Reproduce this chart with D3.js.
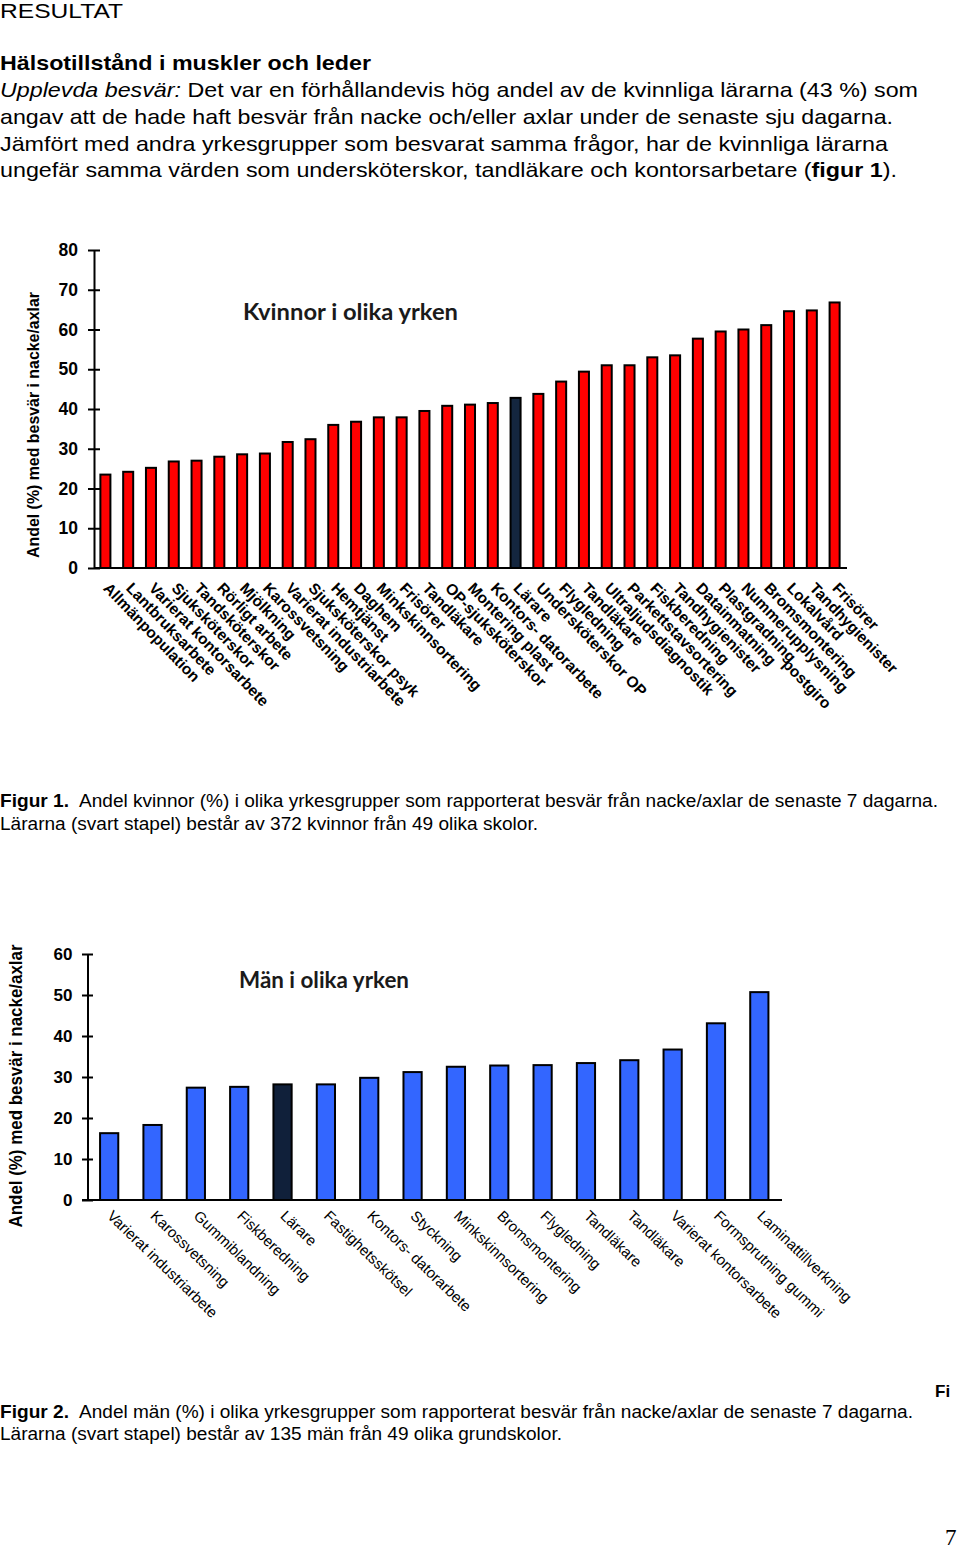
<!DOCTYPE html>
<html>
<head>
<meta charset="utf-8">
<script src="https://cdn.jsdelivr.net/npm/d3@7"></script>
<style>
  html, body { margin: 0; padding: 0; background: #fff; }
  svg { display: block; }
</style>
</head>
<body>
<div id="chart"></div>
<script>
// ---------- Data ----------
const womenCategories = [
  "Allmänpopulation", "Lantbruksarbete", "Varierat kontorsarbete", "Sjuksköterskor",
  "Tandsköterskor", "Rörligt arbete", "Mjölkning", "Karossvetsning",
  "Varierat industriarbete", "Sjuksköterskor psyk", "Hemtjänst", "Daghem",
  "Minkskinnsortering", "Frisörer", "Tandläkare", "OP-sjuksköterskor",
  "Montering plast", "Kontors- datorarbete", "Lärare", "Undersköterskor OP",
  "Flygledning", "Tandläkare", "Ultraljudsdiagnostik", "Parkettstavsortering",
  "Fiskberedning", "Tandhygienister", "Datainmatning", "Plastgradning",
  "Nummerupplysning postgiro", "Bromsmontering", "Lokalvård", "Tandhygienister",
  "Frisörer"
];
const womenValues = [
  23.5, 24.2, 25.2, 26.8, 27.0, 28.0, 28.6, 28.8, 31.7, 32.4, 36.0,
  36.8, 37.9, 37.9, 39.5, 40.8, 41.1, 41.5, 42.8, 43.8, 46.9, 49.4,
  51.0, 51.0, 53.0, 53.5, 57.7, 59.5, 60.0, 61.1, 64.6, 64.8, 66.8
];
const womenTicks = [0, 10, 20, 30, 40, 50, 60, 70, 80];

const menCategories = [
  "Varierat industriarbete", "Karossvetsning", "Gummiblandning", "Fiskberedning",
  "Lärare", "Fastighetsskötsel", "Kontors- datorarbete", "Styckning",
  "Minkskinnsortering", "Bromsmontering", "Flygledning", "Tandläkare",
  "Tandläkare", "Varierat kontorsarbete", "Formsprutning gummi", "Laminattillverkning"
];
const menValues = [
  16.3, 18.3, 27.4, 27.6, 28.2, 28.2, 29.8, 31.2,
  32.5, 32.8, 32.9, 33.4, 34.1, 36.7, 43.1, 50.7
];
const menTicks = [0, 10, 20, 30, 40, 50, 60];

const highlightCategory = "Lärare";
const yAxisLabel = "Andel (%) med besvär i nacke/axlar";

// ---------- Canvas ----------
const W = 960, H = 1550;
const svg = d3.select("#chart").append("svg").attr("width", W).attr("height", H);
const SANS = "'Liberation Sans', Arial, Helvetica, sans-serif";

// ---------- Body text ----------
function line(y, parts, size, len) {
  const t = svg.append("text").attr("x", 0).attr("y", y)
    .attr("font-family", SANS).attr("font-size", size).attr("fill", "#000");
  parts.forEach(p => {
    const ts = t.append("tspan").text(p.t);
    if (p.b) ts.attr("font-weight", "bold");
    if (p.i) ts.attr("font-style", "italic");
  });
  if (len) t.attr("textLength", len).attr("lengthAdjust", "spacingAndGlyphs");
  return t;
}
line(18, [{t: "RESULTAT"}], 21, 123);
line(70, [{t: "Hälsotillstånd i muskler och leder", b: true}], 21, 371);
line(97, [{t: "Upplevda besvär:", i: true}, {t: " Det var en förhållandevis hög andel av de kvinnliga lärarna (43 %) som"}], 21, 918);
line(124, [{t: "angav att de hade haft besvär från nacke och/eller axlar under de senaste sju dagarna."}], 21, 893);
line(150.5, [{t: "Jämfört med andra yrkesgrupper som besvarat samma frågor, har de kvinnliga lärarna"}], 21, 888);
line(177, [{t: "ungefär samma värden som undersköterskor, tandläkare och kontorsarbetare ("}, {t: "figur 1", b: true}, {t: ")."}], 21, 897);

// Captions
function caption(y1, y2, label, rest1, len1, rest2, len2) {
  svg.append("text").attr("x", 0).attr("y", y1).attr("font-family", SANS)
    .attr("font-size", 17.5).attr("font-weight", "bold")
    .attr("textLength", 69).attr("lengthAdjust", "spacingAndGlyphs").text(label);
  svg.append("text").attr("x", 79).attr("y", y1).attr("font-family", SANS)
    .attr("font-size", 17.5)
    .attr("textLength", len1).attr("lengthAdjust", "spacingAndGlyphs").text(rest1);
  svg.append("text").attr("x", 0).attr("y", y2).attr("font-family", SANS)
    .attr("font-size", 17.5)
    .attr("textLength", len2).attr("lengthAdjust", "spacingAndGlyphs").text(rest2);
}
caption(807, 830, "Figur 1.",
  "Andel kvinnor (%) i olika yrkesgrupper som rapporterat besvär från nacke/axlar de senaste 7 dagarna.", 859,
  "Lärarna (svart stapel) består av 372 kvinnor från 49 olika skolor.", 538);
caption(1418, 1440, "Figur 2.",
  "Andel män (%) i olika yrkesgrupper som rapporterat besvär från nacke/axlar de senaste 7 dagarna.", 834,
  "Lärarna (svart stapel) består av 135 män från 49 olika grundskolor.", 562);

svg.append("text").attr("x", 935).attr("y", 1397).attr("font-family", SANS)
  .attr("font-size", 17).attr("font-weight", "bold").text("Fi");
svg.append("text").attr("x", 945).attr("y", 1545)
  .attr("font-family", "'Liberation Serif', 'DejaVu Serif', serif")
  .attr("font-size", 23).text("7");

// ---------- Chart builder ----------
function barChart(cfg) {
  const g = svg.append("g");
  const idx = d3.range(cfg.categories.length);
  const x = d3.scaleBand().domain(idx).range([cfg.x0, cfg.x1])
    .paddingInner(cfg.pad).paddingOuter(cfg.pad / 2);
  const y = d3.scaleLinear().domain([0, cfg.yMax]).range([cfg.yBase, cfg.yTop]);

  // bars
  g.selectAll("rect.bar").data(idx).join("rect")
    .attr("class", "bar")
    .attr("x", i => x(i))
    .attr("y", i => y(cfg.values[i]))
    .attr("width", x.bandwidth())
    .attr("height", i => y(0) - y(cfg.values[i]))
    .attr("fill", i => cfg.categories[i] === highlightCategory ? cfg.hiColor : cfg.color)
    .attr("stroke", "#000").attr("stroke-width", 2);

  // y axis
  const ya = g.append("g").attr("transform", `translate(${cfg.x0},0)`)
    .call(d3.axisLeft(y).tickValues(cfg.ticks).tickSizeOuter(0).tickPadding(10));
  ya.select(".domain").attr("stroke", "#000").attr("stroke-width", 2);
  ya.selectAll(".tick line").attr("x1", cfg.tickIn).attr("x2", -cfg.tickOut)
    .attr("stroke", "#000").attr("stroke-width", 2);
  ya.selectAll(".tick text").attr("font-family", SANS).attr("font-weight", "bold")
    .attr("font-size", cfg.tickSize).attr("fill", "#000").attr("x", cfg.tickTextX);

  // x axis
  const xa = g.append("g").attr("transform", `translate(0,${cfg.yBase})`)
    .call(d3.axisBottom(x).tickSize(0).tickSizeOuter(0).tickFormat(i => cfg.categories[i]));
  xa.select(".domain").attr("stroke", "#000").attr("stroke-width", 2)
    .attr("d", `M${cfg.xAxisStart},0H${cfg.x1 + 1}`);
  xa.selectAll(".tick text")
    .attr("font-family", SANS).attr("font-size", cfg.labelSize)
    .attr("font-weight", cfg.labelWeight).attr("fill", "#000")
    .attr("text-anchor", "start").attr("x", 0).attr("y", 0).attr("dy", 0)
    .attr("transform", `translate(${cfg.labelDx},${cfg.labelDy}) rotate(${cfg.angle})`)
    .each(function () {
      // wrap over-long labels onto a second, right-aligned line
      const t = d3.select(this);
      const full = t.text();
      if (this.getComputedTextLength() <= cfg.maxLabel || full.indexOf(" ") < 0) return;
      const cut = full.lastIndexOf(" ");
      t.text(null);
      const l1 = t.append("tspan").attr("x", 0).attr("dy", 0).text(full.slice(0, cut));
      const l2 = t.append("tspan").text(full.slice(cut + 1));
      const w1 = l1.node().getComputedTextLength();
      const w2 = l2.node().getComputedTextLength();
      l2.attr("x", w1 - w2).attr("dy", cfg.wrapDy);
    });

  // title
  g.append("text").attr("x", cfg.titleX).attr("y", cfg.titleY)
    .attr("font-family", "Lato, 'Open Sans', sans-serif").attr("font-weight", "bold")
    .attr("font-size", 22).attr("fill", "#1a1a1a")
    .attr("textLength", cfg.titleLen).attr("lengthAdjust", "spacingAndGlyphs")
    .text(cfg.title);

  // y label
  g.append("text")
    .attr("transform", `translate(${cfg.ylabX},${cfg.ylabY}) rotate(-90)`)
    .attr("text-anchor", "middle")
    .attr("font-family", SANS).attr("font-weight", "bold")
    .attr("font-size", cfg.ylabSize).attr("fill", "#000")
    .attr("textLength", cfg.ylabLen).attr("lengthAdjust", "spacingAndGlyphs")
    .text(yAxisLabel);
}

barChart({
  categories: womenCategories, values: womenValues, ticks: womenTicks, yMax: 80,
  x0: 94, x1: 846, yBase: 568, yTop: 250, pad: 0.56,
  color: "#ff0000", hiColor: "#14263f",
  tickIn: 6, tickOut: 6, tickTextX: -16, tickSize: 17.5, xAxisStart: 94,
  labelSize: 15.5, labelWeight: "bold", labelDx: -3, labelDy: 21, angle: 46,
  maxLabel: 180, wrapDy: "1.5em",
  title: "Kvinnor i olika yrken", titleX: 243, titleY: 320, titleLen: 215,
  ylabX: 39, ylabY: 425, ylabSize: 17, ylabLen: 266
});

barChart({
  categories: menCategories, values: menValues, ticks: menTicks, yMax: 60,
  x0: 87.5, x1: 781, yBase: 1200, yTop: 954, pad: 0.58,
  color: "#3366ff", hiColor: "#10203a",
  tickIn: 5.5, tickOut: 5.5, tickTextX: -15, tickSize: 17, xAxisStart: 82,
  labelSize: 15, labelWeight: "normal", labelDx: -3, labelDy: 17, angle: 44,
  maxLabel: 400, wrapDy: "1.2em",
  title: "Män i olika yrken", titleX: 239, titleY: 988, titleLen: 170,
  ylabX: 22, ylabY: 1086, ylabSize: 18.5, ylabLen: 283
});
</script>
</body>
</html>
